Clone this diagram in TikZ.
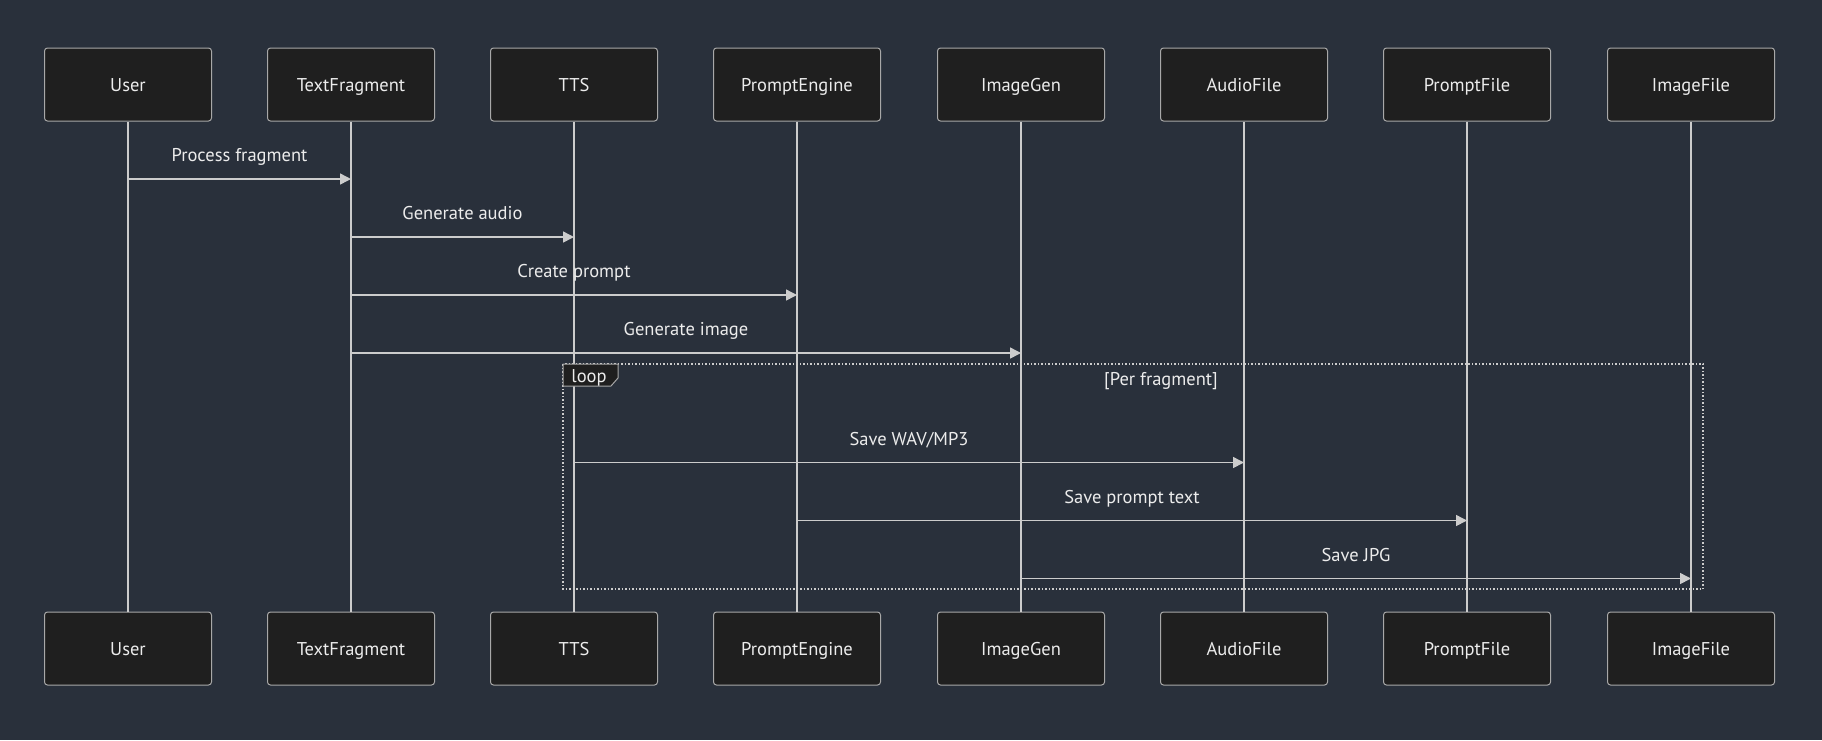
\documentclass[tikz,border=0pt]{standalone}
\usepackage{fontspec}
\setmainfont{PT Sans}
\usetikzlibrary{arrows.meta}

\definecolor{bgcol}{HTML}{29303B}
\definecolor{boxcol}{HTML}{1F1F1F}
\definecolor{edgecol}{HTML}{A8A8A8}
\definecolor{linecol}{HTML}{CCCCCC}
\definecolor{txtcol}{HTML}{ECECEC}

\tikzset{
  actor/.style={draw=edgecol, fill=boxcol, rounded corners=3, line width=1,
    minimum width=167, minimum height=73, text=txtcol,
    text height=18, text depth=4,
    font=\fontsize{18.5}{22}\selectfont},
  life/.style={draw=linecol, line width=1.5},
  msg/.style={draw=linecol, line width=1.5, -{Triangle[length=11,width=11]}},
  lbl/.style={text=txtcol, font=\fontsize{18.5}{22}\selectfont, inner sep=0,
    text height=13, text depth=4},
  loopbox/.style={draw=linecol, line width=1.5, dotted},
}

\begin{document}
\begin{tikzpicture}[x=1pt,y=1pt]
\fill[bgcol] (0,0) rectangle (1822,-740);

% participants
\node[actor] (user)  at (128,-84.5)  {User};
\node[actor] (tfrag) at (351,-84.5)  {TextFragment};
\node[actor] (tts)   at (574,-84.5)  {TTS};
\node[actor] (peng)  at (797,-84.5)  {PromptEngine};
\node[actor] (igen)  at (1021,-84.5) {ImageGen};
\node[actor] (afile) at (1244,-84.5) {AudioFile};
\node[actor] (pfile) at (1467,-84.5) {PromptFile};
\node[actor] (ifile) at (1691,-84.5) {ImageFile};

\node[actor] (userB)  at (128,-648.5)  {User};
\node[actor] (tfragB) at (351,-648.5)  {TextFragment};
\node[actor] (ttsB)   at (574,-648.5)  {TTS};
\node[actor] (pengB)  at (797,-648.5)  {PromptEngine};
\node[actor] (igenB)  at (1021,-648.5) {ImageGen};
\node[actor] (afileB) at (1244,-648.5) {AudioFile};
\node[actor] (pfileB) at (1467,-648.5) {PromptFile};
\node[actor] (ifileB) at (1691,-648.5) {ImageFile};

% lifelines
\draw[life] (user) -- (userB);
\draw[life] (tfrag) -- (tfragB);
\draw[life] (tts) -- (ttsB);
\draw[life] (peng) -- (pengB);
\draw[life] (igen) -- (igenB);
\draw[life] (afile) -- (afileB);
\draw[life] (pfile) -- (pfileB);
\draw[life] (ifile) -- (ifileB);

% message rows
\coordinate (m1) at (0,-179);
\coordinate (m2) at (0,-237);
\coordinate (m3) at (0,-295);
\coordinate (m4) at (0,-353);
\coordinate (m5) at (0,-462.5);
\coordinate (m6) at (0,-520.5);
\coordinate (m7) at (0,-578.5);

% loop frame
\draw[loopbox] (563,-364) rectangle (1703,-589);
\draw[draw=edgecol, fill=boxcol, line width=1] (563,-364) -- (618,-364) -- (618,-378) -- (611,-386) -- (563,-386) -- cycle;
\node[lbl] (looptag) at (589,-377.5) {loop};
\node[lbl] (loopcond) at (1161,-381) {[Per fragment]};

\draw[msg] (user |- m1) -- (tfrag |- m1) node[lbl, midway, yshift=22] {Process fragment};
\draw[msg] (tfrag |- m2) -- (tts |- m2) node[lbl, midway, yshift=22] {Generate audio};
\draw[msg] (tfrag |- m3) -- (peng |- m3) node[lbl, midway, yshift=22] {Create prompt};
\draw[msg] (tfrag |- m4) -- (igen |- m4) node[lbl, midway, yshift=22] {Generate image};
\draw[msg] (tts |- m5) -- (afile |- m5) node[lbl, midway, yshift=22] {Save WAV/MP3};
\draw[msg] (peng |- m6) -- (pfile |- m6) node[lbl, midway, yshift=22] {Save prompt text};
\draw[msg] (igen |- m7) -- (ifile |- m7) node[lbl, midway, yshift=22] {Save JPG};
\end{tikzpicture}
\end{document}
